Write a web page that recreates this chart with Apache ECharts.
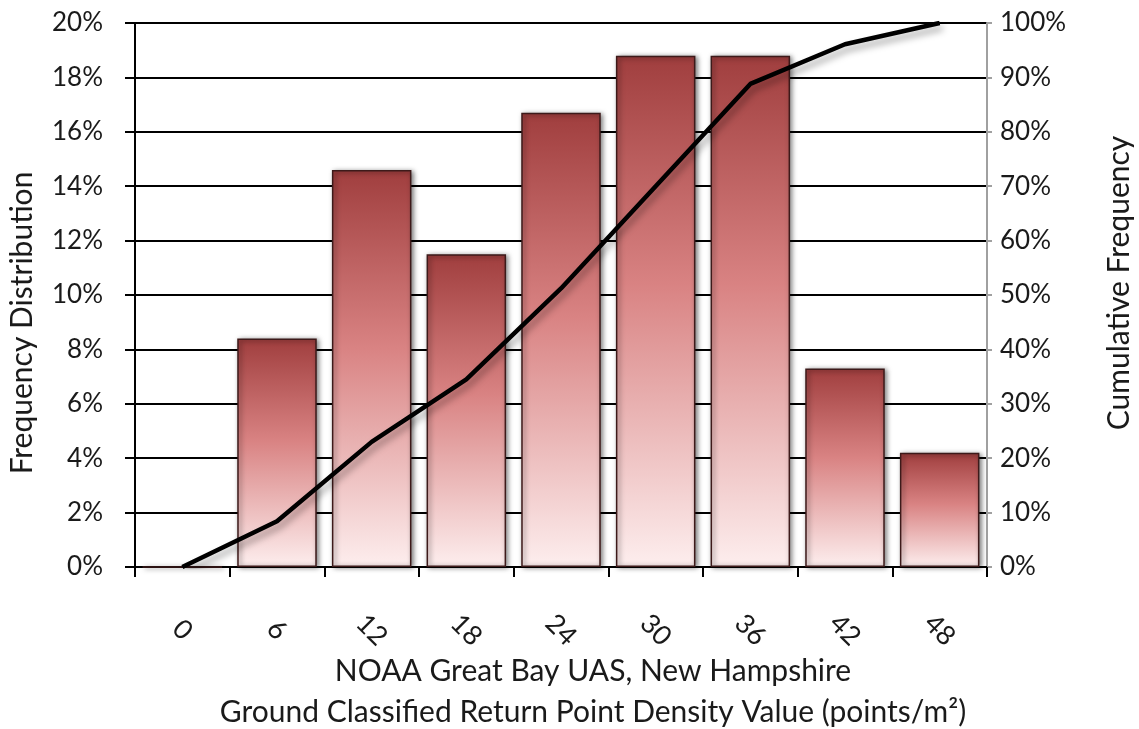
<!DOCTYPE html>
<html>
<head>
<meta charset="utf-8">
<script src="https://cdn.jsdelivr.net/npm/echarts@6/dist/echarts.min.js"></script>
<style>
  html, body { margin: 0; padding: 0; background: #fff; }
  #chart { width: 1139px; height: 729px; }
</style>
</head>
<body>
<div id="chart"></div>
<script>
// Point density bins (points/m²)
const categories = ['0', '6', '12', '18', '24', '30', '36', '42', '48'];
// Share of ground returns per bin (%)
const frequency = [0, 8.4, 14.6, 11.5, 16.7, 18.8, 18.8, 7.3, 4.2];
// Running total of the bins (%)
const cumulative = [0, 8.4, 23.0, 34.5, 51.2, 70.0, 88.8, 96.1, 100];

const FONT = 'Lato, "Open Sans", sans-serif';
const TXT = '#1a1a1a';

const chart = echarts.init(document.getElementById('chart'), null, { renderer: 'canvas' });

chart.setOption({
  animation: false,
  backgroundColor: '#ffffff',
  textStyle: { fontFamily: FONT },
  grid: { left: 135, right: 152, top: 23, bottom: 162, containLabel: false },
  title: {
    text: 'NOAA Great Bay UAS, New Hampshire\nGround Classified Return Point Density Value (points/m²)',
    left: 588,
    top: 646,
    textAlign: 'center',
    textStyle: { fontFamily: FONT, fontSize: 30, fontWeight: 'normal', color: TXT, lineHeight: 41 }
  },
  graphic: [
    {
      type: 'text', x: 22, y: 323, rotation: Math.PI / 2,
      style: { text: 'Frequency Distribution', fill: TXT, font: '30px ' + FONT, textAlign: 'center', textVerticalAlign: 'middle' }
    },
    {
      type: 'text', x: 1119, y: 283, rotation: Math.PI / 2,
      style: { text: 'Cumulative Frequency', fill: TXT, font: '30px ' + FONT, textAlign: 'center', textVerticalAlign: 'middle' }
    }
  ],
  xAxis: {
    type: 'category',
    data: categories,
    boundaryGap: true,
    axisLine: { show: true, lineStyle: { color: '#000', width: 2 } },
    axisTick: { show: true, inside: false, length: 10, lineStyle: { color: '#000', width: 2 } },
    axisLabel: {
      rotate: -45, margin: 63, align: 'center', verticalAlign: 'middle',
      color: TXT, fontSize: 27, fontFamily: FONT, interval: 0
    },
    splitLine: { show: false }
  },
  yAxis: [
    {
      type: 'value', min: 0, max: 20, interval: 2, position: 'left',
      axisLine: { show: true, lineStyle: { color: '#000', width: 2 } },
      axisTick: { show: true, length: 10, lineStyle: { color: '#000', width: 2 } },
      axisLabel: { formatter: '{value}%', margin: 32, color: TXT, fontSize: 26, fontFamily: FONT },
      splitLine: { show: true, lineStyle: { color: '#000', width: 2 } }
    },
    {
      type: 'value', min: 0, max: 100, interval: 10, position: 'right',
      axisLine: { show: true, lineStyle: { color: '#a0a0a0', width: 2 } },
      axisTick: { show: true, length: 5, lineStyle: { color: '#a0a0a0', width: 2 } },
      axisLabel: { formatter: '{value}%', margin: 13, color: TXT, fontSize: 26, fontFamily: FONT },
      splitLine: { show: false }
    }
  ],
  series: [
    {
      name: 'Frequency Distribution',
      type: 'bar',
      yAxisIndex: 0,
      data: frequency,
      barCategoryGap: '16%',
      z: 2,
      itemStyle: {
        color: new echarts.graphic.LinearGradient(0, 0, 0, 1, [
          { offset: 0, color: '#a03e3e' },
          { offset: 0.45, color: '#d98383' },
          { offset: 1, color: '#fdeeee' }
        ]),
        borderColor: '#3d1a1a',
        borderWidth: 1.5,
        shadowColor: 'rgba(0,0,0,0.55)',
        shadowBlur: 5,
        shadowOffsetX: 2,
        shadowOffsetY: 1
      }
    },
    {
      name: 'Cumulative Frequency',
      type: 'line',
      yAxisIndex: 1,
      data: cumulative,
      symbol: 'none',
      z: 5,
      lineStyle: {
        color: '#000',
        width: 4.5,
        shadowColor: 'rgba(0,0,0,0.35)',
        shadowBlur: 7,
        shadowOffsetX: 3,
        shadowOffsetY: 5
      }
    }
  ]
});
</script>
</body>
</html>
